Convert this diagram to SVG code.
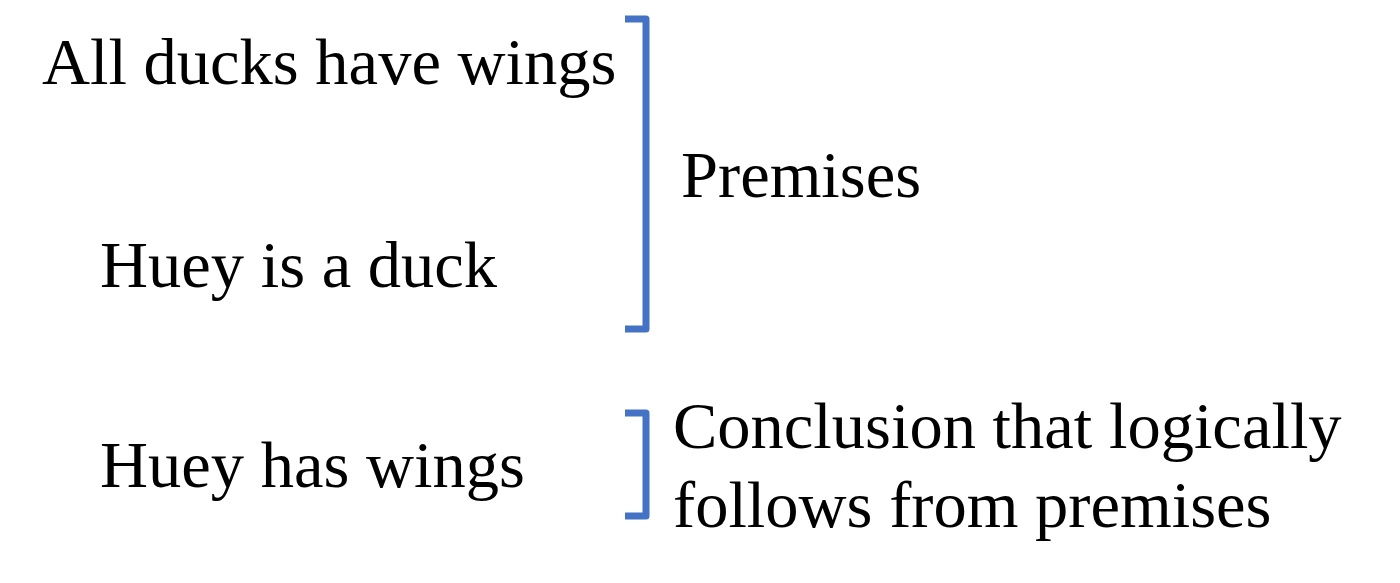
<svg xmlns="http://www.w3.org/2000/svg" width="1400" height="583" viewBox="0 0 1400 583">
<style>
.t{font-size:66.5px;fill:#000}
.br{fill:none;stroke:#4472C4;stroke-width:7;stroke-linejoin:round}
</style>
<rect width="1400" height="583" fill="#fff"/>
<g font-family="Liberation Serif, Tinos, Times New Roman, DejaVu Serif, serif">
<g id="premise1"><text class="t" x="42" y="84">All ducks have wings</text></g>
<g id="premise2"><text class="t" x="100" y="287">Huey is a duck</text></g>
<g id="conclusion"><text class="t" x="100" y="487">Huey has wings</text></g>
<g id="premises-label"><text class="t" x="681" y="197">Premises</text></g>
<g id="conclusion-label"><text class="t" x="673" y="448">Conclusion that logically</text><text class="t" x="673" y="527">follows from premises</text></g>
</g>
<g id="connectors">
<path class="br" d="M625,19 H646 V329 H625"/>
<path class="br" d="M625,413 H646 V516 H625"/>
</g>
</svg>
